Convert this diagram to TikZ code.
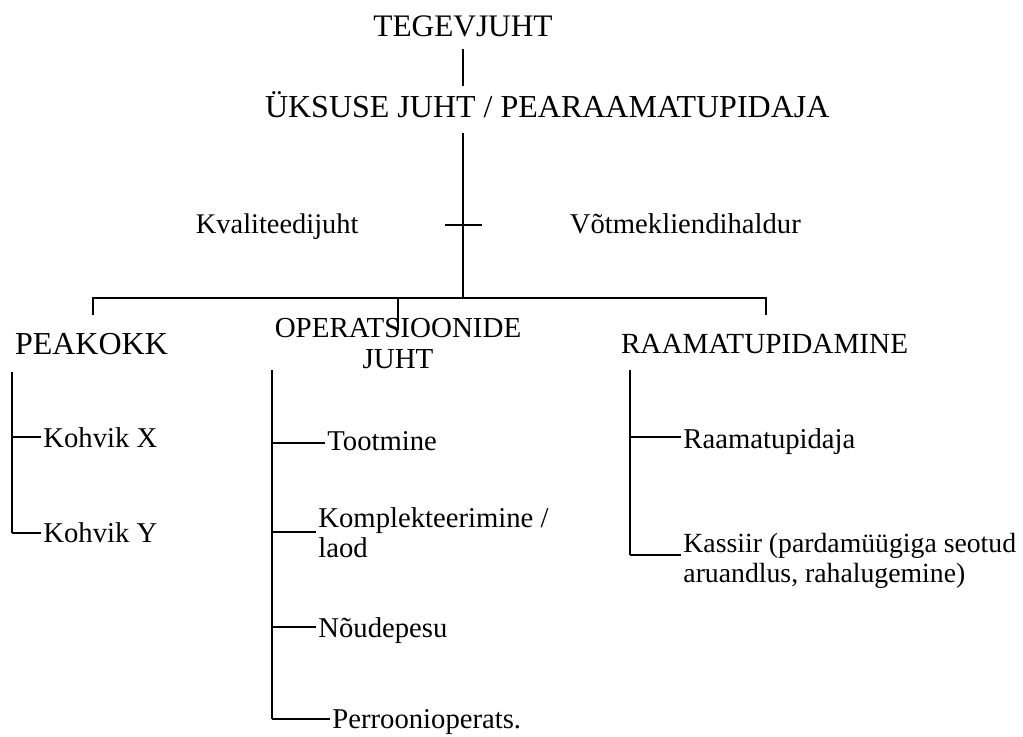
\documentclass[tikz,border=0pt]{standalone}
\usepackage{fontspec}
\setmainfont{Liberation Serif}
\usetikzlibrary{calc}
\begin{document}
\begin{tikzpicture}[x=0.75pt,y=-0.75pt,
  txt/.style={inner sep=0pt, outer sep=0pt},
  bigtxt/.style={txt, font=\fontsize{24}{26}\selectfont},
  midtxt/.style={txt, font=\fontsize{21.75}{23.2}\selectfont},
  item/.style={txt, anchor=base west, align=left, outer xsep=2.2pt,
    font=\fontsize{21.5}{22.5}\selectfont},
  thinline/.style={line width=1pt},
  rule/.style={line width=1.3pt},
  heavy/.style={line width=2pt}]
\useasboundingbox (0,0) rectangle (1023,736);

% top of the chart
\node[bigtxt, anchor=base, font=\fontsize{23.5}{26}\selectfont] (ceo) at (463,36) {TEGEVJUHT};
\node[bigtxt, anchor=base west] (unit) at (265,117) {ÜKSUSE JUHT / PEARAAMATUPIDAJA};
\coordinate (ceoLine) at (463,49);
\coordinate (unitLine) at (463,86);
\draw[thinline] (ceoLine) -- (unitLine);

% staff positions beside the spine
\node[item, font=\fontsize{21.3}{22.5}\selectfont] (quality) at (193,233) {Kvaliteedijuht};
\node[item] (keyacc) at (567,233) {Võtmekliendihaldur};

\coordinate (spineTop) at (463,133);
\coordinate (hub) at (463,298);
\coordinate (crossL) at (445,225);
\coordinate (crossR) at (482,225);
\draw[heavy] (spineTop) -- (hub);
\draw[rule] (crossL) -- (crossR);

% departments (a multi-line node sits on the baseline of its last line)
\node[bigtxt, anchor=base west] (chef) at (15,354) {PEAKOKK};
\node[midtxt, anchor=base, align=center] (ops) at (398,368) {OPERATSIOONIDE\\JUHT};
\node[txt, anchor=base west, font=\fontsize{21.9}{23}\selectfont] (acc) at (621,353) {RAAMATUPIDAMINE};

\coordinate (barL) at (93,298);
\coordinate (barM) at (398,298);
\coordinate (barR) at (766,298);
\coordinate (dropL) at (93,315);
\coordinate (dropM) at (398,330);
\coordinate (dropR) at (766,315);
\draw[rule] (dropL) -- (barL) -- (barR) -- (dropR);
\draw[rule] (barM) -- (dropM);

% PEAKOKK branch
\node[item] (cafeX) at (40.5,447) {Kohvik X};
\node[item] (cafeY) at (40.5,542) {Kohvik Y};
\coordinate (chefTop) at (12,372);
\coordinate (cafeXj) at (12,437);
\coordinate (cafeYj) at (12,533);
\draw[heavy] (chefTop) -- (cafeYj);
\draw[rule] (cafeXj) -- (cafeXj -| cafeX.west);
\draw[rule] (cafeYj) -- (cafeYj -| cafeY.west);

% OPERATSIOONIDE JUHT branch
\node[item] (prod) at (324.5,450) {Tootmine};
\node[item, font=\fontsize{21.5}{22.5}\selectfont] (pick) at (315.5,557) {Komplekteerimine /\\laod};
\node[item] (dish) at (315.5,637) {Nõudepesu};
\node[item] (apron) at (329.5,728) {Perroonioperats.};
\coordinate (opsTop) at (272,370);
\coordinate (prodj) at (272,443);
\coordinate (pickj) at (272,532);
\coordinate (dishj) at (272,627);
\coordinate (apronj) at (272,719);
\draw[heavy] (opsTop) -- (apronj);
\draw[rule] (prodj) -- (prodj -| prod.west);
\draw[rule] (pickj) -- (pickj -| pick.west);
\draw[rule] (dishj) -- (dishj -| dish.west);
\draw[rule] (apronj) -- (apronj -| apron.west);

% RAAMATUPIDAMINE branch
\node[item] (book) at (680.5,448) {Raamatupidaja};
\node[item, font=\fontsize{20.8}{22.5}\selectfont] (cash) at (680.5,582) {Kassiir (pardamüügiga seotud\\aruandlus, rahalugemine)};
\coordinate (accTop) at (630,370);
\coordinate (bookj) at (630,437);
\coordinate (cashj) at (630,555);
\draw[heavy] (accTop) -- (cashj);
\draw[rule] (bookj) -- (bookj -| book.west);
\draw[rule] (cashj) -- (cashj -| cash.west);
\end{tikzpicture}
\end{document}
